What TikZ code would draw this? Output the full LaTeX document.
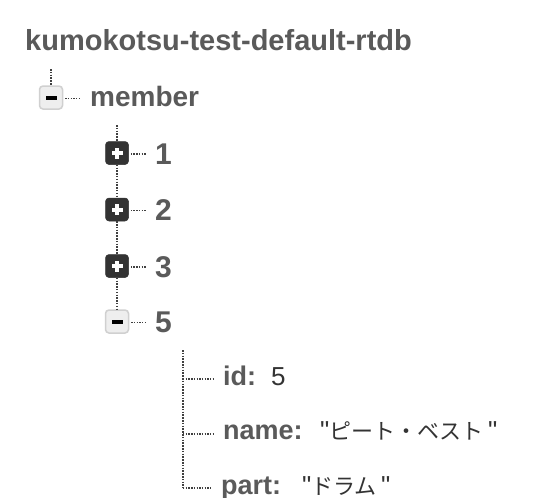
\documentclass[tikz,border=0pt]{standalone}
\usepackage{fontspec}
\setmainfont{Liberation Sans}
\newfontfamily\plainsans{Liberation Sans}
\newfontfamily\cjk{Noto Sans CJK JP}
\definecolor{keygrey}{HTML}{5A5A5A}
\definecolor{valgrey}{HTML}{333333}
\definecolor{dotgrey}{HTML}{404040}
\definecolor{boxdark}{HTML}{333333}
\definecolor{boxlight}{HTML}{EEEEEE}
\definecolor{boxedge}{HTML}{D0D0D0}
\tikzset{
  dotline/.style={dotgrey, line width=2pt, dash pattern=on 1.5pt off 1.3pt},
  stubline/.style={dotgrey, line width=1.5pt, dash pattern=on 1.4pt off 1.3pt},
  plusbox/.style={draw=boxdark, fill=boxdark, rounded corners=3.5pt, minimum size=23pt, inner sep=0pt, line width=0.5pt,
    path picture={\fill[white, sharp corners] ([xshift=-5.5pt,yshift=-2pt]path picture bounding box.center) rectangle ([xshift=5.5pt,yshift=2pt]path picture bounding box.center);
                  \fill[white, sharp corners] ([xshift=-2pt,yshift=-5.5pt]path picture bounding box.center) rectangle ([xshift=2pt,yshift=5.5pt]path picture bounding box.center);}},
  minusbox/.style={draw=boxedge, fill=boxlight, rounded corners=3.5pt, minimum size=23pt, inner sep=0pt, line width=1.5pt,
    path picture={\fill[black, sharp corners] ([xshift=-5.5pt,yshift=-2pt]path picture bounding box.center) rectangle ([xshift=5.5pt,yshift=2pt]path picture bounding box.center);}},
  titletext/.style={anchor=base west, inner sep=0pt, text=keygrey, font=\fontsize{29}{34}\selectfont\bfseries},
  keytext/.style={anchor=base west, inner sep=0pt, text=keygrey, font=\fontsize{28}{34}\selectfont\bfseries},
  numtext/.style={anchor=base west, inner sep=0pt, text=keygrey, font=\fontsize{30}{36}\selectfont\bfseries},
  childkey/.style={anchor=base west, inner sep=0pt, text=keygrey, font=\fontsize{27}{32}\selectfont\bfseries},
  valtext/.style={anchor=base west, inner sep=0pt, text=valgrey, font=\plainsans\fontsize{26}{32}\selectfont},
}
\begin{document}
\begin{tikzpicture}[x=1pt,y=-1pt]
\useasboundingbox[fill=white] (0,0) rectangle (560,498);
% title
\node[titletext] (title) at (25,50) {kumokotsu-test-default-rtdb};
% member
\coordinate (memtop) at (51,69);
\node[minusbox] (membox) at (51,97.5) {};
\node[keytext] (member) at (90,106) {member};
\draw[dotline] (memtop) -- (membox.north);
\draw[stubline] ([xshift=2pt,yshift=-1pt]membox.east) -- ([xshift=-9pt,yshift=-1pt]membox.east -| member.west);
% items
\node[plusbox] (b1) at (117,153) {};
\node[plusbox] (b2) at (117,209.5) {};
\node[plusbox] (b3) at (117,266) {};
\node[minusbox] (b5) at (117,321.5) {};
\coordinate (itemtop) at (117,125);
\draw[dotline] (itemtop) -- (b1.north);
\draw[dotline] (b1.south) -- (b2.north);
\draw[dotline] (b2.south) -- (b3.north);
\draw[dotline] (b3.south) -- (b5.north);
\node[numtext] (l1) at (155,164) {1};
\node[numtext] (l2) at (155,220) {2};
\node[numtext] (l3) at (155,277) {3};
\node[numtext] (l5) at (155,332) {5};
\foreach \b/\l in {b1/l1,b2/l2,b3/l3,b5/l5}{
  \draw[stubline] ([xshift=2pt,yshift=-1pt]\b.east) -- ([xshift=-9pt,yshift=-1pt]\b.east -| \l.west);
}
% children
\coordinate (ctop) at (183,350);
\coordinate (cid) at (183,379);
\coordinate (cname) at (183,434);
\coordinate (cpart) at (183,488);
\node[childkey] (kid) at (223,385) {id:};
\node[valtext] (vid) at (271,385) {5};
\node[childkey] (kname) at (223,439) {name:};
\node[valtext] (vname) at (320,439) {"{\cjk\fontsize{22}{28}\selectfont ピート・ベスト}\,"};
\node[childkey] (kpart) at (221,494) {part:};
\node[valtext] (vpart) at (302,494) {"{\cjk\fontsize{22}{28}\selectfont ドラム}\,"};
\draw[dotline] (ctop) -- (cpart);
\draw[stubline] (cid) -- ([xshift=-10pt]cid -| kid.west);
\draw[stubline] (cname) -- ([xshift=-10pt]cname -| kname.west);
\draw[stubline] (cpart) -- ([xshift=-10pt]cpart -| kpart.west);
\end{tikzpicture}
\end{document}
